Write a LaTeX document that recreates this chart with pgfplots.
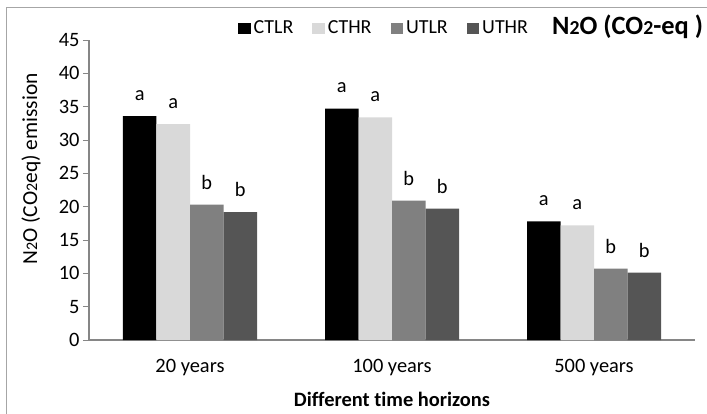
\documentclass[border=0pt]{standalone}
\usepackage{fontspec}
\setmainfont{Carlito}[Ligatures=CommonOff]
\usepackage{pgfplots}
\pgfplotsset{compat=1.18}
\definecolor{axisgrey}{HTML}{868686}
\definecolor{framegrey}{HTML}{A6A6A6}
\definecolor{cthr}{HTML}{D9D9D9}
\definecolor{utlr}{HTML}{808080}
\definecolor{uthr}{HTML}{555555}
\newcommand{\sm}[1]{\scalebox{0.75}{#1}}
\newcommand{\fs}{\fontsize{20.5}{23}\selectfont}
\begin{document}
\begin{tikzpicture}
\useasboundingbox (-89bp,-74bp) rectangle (618bp,340bp);
\draw[framegrey, line width=1bp] (-82bp,-80bp) -- (-82bp,332bp) -- (630bp,332bp);
\begin{axis}[
  at={(0bp,0bp)}, anchor=south west,
  scale only axis, width=606bp, height=300bp,
  ymin=0, ymax=45, ytick={0,5,...,45},
  xmin=-0.5, xmax=2.5, xtick={0,1,2},
  xticklabels={20 years,100 years,500 years},
  major x tick style={draw=none},
  axis x line*=bottom, axis y line*=left,
  axis line style={axisgrey, line width=1.3bp},
  ytick style={axisgrey, line width=1bp},
  tick align=outside, major tick length=6bp,
  tick label style={font=\fs},
  /pgf/number format/assume math mode=true,
  xticklabel style={yshift=-10bp},
  ybar=0pt, bar width=33.5bp,
  xlabel={\bfseries Different time horizons},
  xlabel style={at={(axis description cs:0.5,0)}, anchor=base, yshift=-66bp, font=\fs},
  ylabel={N\sm{2}O (CO\sm{2}eq) emission},
  ylabel style={at={(axis description cs:-0.0957,0.57)}, anchor=center, rotate=0, font=\fontsize{21.5}{24}\selectfont},
  nodes near coords, point meta=explicit symbolic,
  every node near coord/.append style={font=\fs, yshift=12bp, text=black},
  legend columns=4,
  legend style={draw=none, fill=none, font=\fontsize{20}{23}\selectfont, at={(axis description cs:0.241,1.04)}, anchor=west,
    nodes={inner sep=0bp},
    /tikz/every odd column/.append style={column sep=3bp},
    /tikz/every even column/.append style={column sep=19bp}},
  legend image code/.code={\fill[#1] (0bp,-5.5bp) rectangle (12.5bp,5.5bp);},
]
\addplot[fill=black, draw=none] coordinates {(0,33.6)[a] (1,34.7)[a] (2,17.8)[a]};
\addplot[fill=cthr, draw=none] coordinates {(0,32.4)[a] (1,33.4)[a] (2,17.2)[a]};
\addplot[fill=utlr, draw=none] coordinates {(0,20.3)[b] (1,20.9)[b] (2,10.7)[b]};
\addplot[fill=uthr, draw=none] coordinates {(0,19.2)[b] (1,19.7)[b] (2,10.1)[b]};
\legend{CTLR,CTHR,UTLR,UTHR}
\end{axis}
\node[anchor=base west, inner sep=0, font=\bfseries\fontsize{26.5}{29}\selectfont] at (463bp,305bp) {N\sm{2}O (CO\sm{2}-eq )};
\end{tikzpicture}
\end{document}
